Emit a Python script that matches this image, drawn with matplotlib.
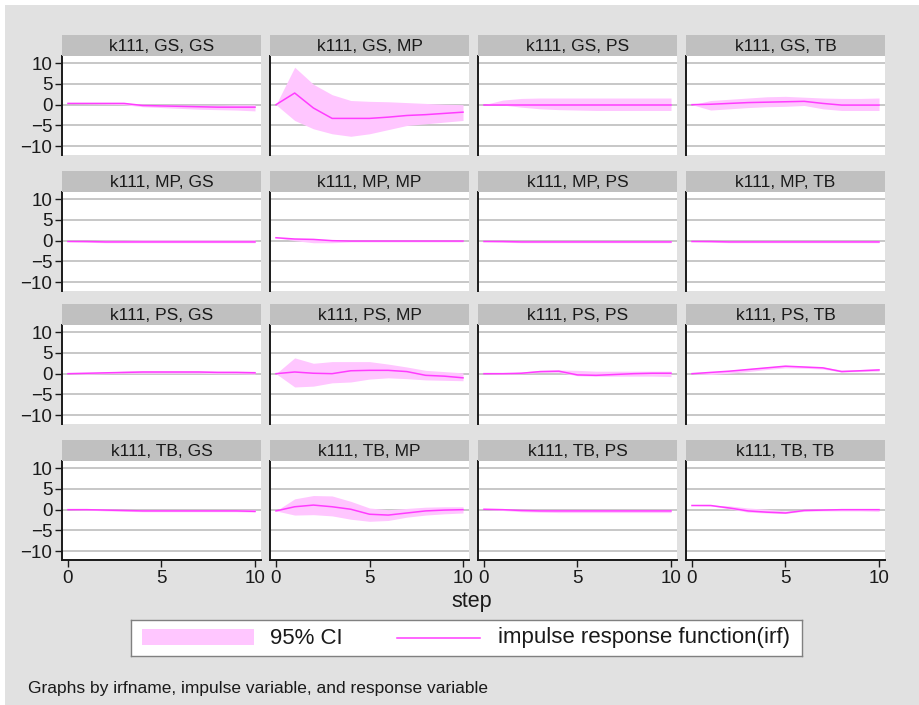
import matplotlib
matplotlib.use("Agg")
import matplotlib.pyplot as plt
from matplotlib.patches import Rectangle
from matplotlib.lines import Line2D

plt.rcParams["font.family"] = ["Liberation Sans", "DejaVu Sans"]

# ── data ──────────────────────────────────────────────────────────────────────

steps = list(range(11))
impulses = ["GS", "MP", "PS", "TB"]
responses = ["GS", "MP", "PS", "TB"]

# one row per panel, order: impulse GS (resp GS, MP, PS, TB), impulse MP, ...
irf = [
    [0.3, 0.3, 0.3, 0.3, -0.2, -0.3, -0.4, -0.5, -0.6, -0.6, -0.6],
    [0.0, 2.8, -0.8, -3.3, -3.3, -3.3, -3.0, -2.6, -2.4, -2.1, -1.8],
    [0.0, 0.0, 0.0, 0.0, 0.0, 0.0, 0.0, 0.0, 0.0, 0.0, 0.0],
    [0.0, 0.1, 0.3, 0.5, 0.6, 0.7, 0.8, 0.3, -0.1, -0.1, -0.1],
    [-0.2, -0.2, -0.3, -0.3, -0.3, -0.3, -0.3, -0.3, -0.3, -0.3, -0.3],
    [0.7, 0.4, 0.3, 0.0, -0.1, -0.1, -0.1, -0.1, -0.1, -0.1, -0.1],
    [-0.2, -0.2, -0.3, -0.3, -0.3, -0.3, -0.3, -0.3, -0.3, -0.3, -0.3],
    [-0.2, -0.2, -0.3, -0.3, -0.3, -0.3, -0.3, -0.3, -0.3, -0.3, -0.3],
    [0.0, 0.1, 0.2, 0.3, 0.4, 0.4, 0.4, 0.4, 0.3, 0.3, 0.2],
    [0.0, 0.4, 0.1, 0.0, 0.7, 0.8, 0.8, 0.5, -0.4, -0.6, -1.0],
    [0.0, 0.0, 0.1, 0.5, 0.6, -0.3, -0.4, -0.2, 0.0, 0.1, 0.1],
    [0.0, 0.3, 0.6, 1.0, 1.4, 1.8, 1.6, 1.4, 0.5, 0.7, 0.9],
    [0.0, 0.0, -0.1, -0.2, -0.3, -0.3, -0.3, -0.3, -0.3, -0.3, -0.4],
    [-0.3, 0.7, 1.1, 0.7, 0.1, -1.1, -1.3, -0.8, -0.3, -0.1, 0.0],
    [0.1, 0.0, -0.2, -0.3, -0.3, -0.3, -0.3, -0.3, -0.3, -0.3, -0.3],
    [1.0, 1.0, 0.4, -0.3, -0.6, -0.8, -0.2, -0.1, 0.0, 0.0, 0.0],
]

ci_lower = [
    [0.3, 0.2, 0.1, 0.0, -0.5, -0.7, -0.9, -1.1, -1.2, -1.3, -1.5],
    [0.0, -3.8, -5.8, -7.0, -7.6, -7.0, -6.0, -5.0, -4.6, -4.2, -3.8],
    [0.0, -0.1, -0.6, -1.0, -1.2, -1.3, -1.4, -1.4, -1.4, -1.4, -1.4],
    [0.0, -1.3, -1.0, -0.7, -0.5, -0.4, -0.2, -1.0, -1.4, -1.4, -1.4],
    [-0.2, -0.4, -0.5, -0.5, -0.5, -0.5, -0.5, -0.5, -0.5, -0.5, -0.5],
    [0.7, 0.0, -0.5, -0.5, -0.3, -0.3, -0.3, -0.3, -0.3, -0.3, -0.3],
    [-0.2, -0.4, -0.5, -0.5, -0.5, -0.5, -0.5, -0.5, -0.5, -0.5, -0.5],
    [-0.2, -0.4, -0.5, -0.5, -0.5, -0.5, -0.5, -0.5, -0.5, -0.5, -0.5],
    [0.0, -0.1, 0.0, 0.1, 0.1, 0.1, 0.1, 0.1, 0.0, 0.0, -0.1],
    [0.0, -3.2, -3.0, -2.2, -2.0, -1.3, -1.0, -1.2, -1.5, -1.6, -1.7],
    [0.0, -0.1, 0.0, 0.3, 0.3, -0.5, -0.6, -0.6, -0.6, -0.6, -0.7],
    [0.0, -0.2, 0.1, 0.5, 1.0, 1.4, 1.3, 1.1, 0.4, 0.5, 0.6],
    [0.0, -0.1, -0.3, -0.4, -0.5, -0.5, -0.5, -0.5, -0.5, -0.5, -0.6],
    [-0.3, -1.3, -1.2, -1.5, -2.3, -2.8, -2.6, -1.8, -1.3, -1.0, -0.8],
    [0.1, -0.2, -0.5, -0.6, -0.7, -0.7, -0.7, -0.7, -0.7, -0.7, -0.7],
    [1.0, 0.9, 0.2, -0.6, -0.8, -0.9, -0.4, -0.3, -0.3, -0.3, -0.4],
]

ci_upper = [
    [0.3, 0.4, 0.4, 0.4, 0.1, 0.0, -0.1, -0.1, -0.1, 0.0, 0.0],
    [0.0, 9.0, 4.9, 2.4, 1.0, 0.8, 0.7, 0.5, 0.3, 0.1, 0.0],
    [0.0, 1.1, 1.5, 1.6, 1.6, 1.6, 1.6, 1.6, 1.6, 1.6, 1.6],
    [0.0, 1.0, 1.3, 1.6, 1.9, 2.0, 1.8, 1.6, 1.5, 1.5, 1.6],
    [-0.2, 0.0, 0.1, 0.1, 0.2, 0.2, 0.2, 0.2, 0.2, 0.2, 0.2],
    [0.7, 0.5, 0.4, 0.1, 0.0, 0.0, 0.0, 0.0, 0.0, 0.0, 0.0],
    [-0.2, -0.1, -0.1, -0.1, 0.0, 0.0, 0.0, 0.0, 0.0, 0.0, 0.0],
    [-0.2, -0.1, -0.1, -0.1, 0.0, 0.0, 0.0, 0.0, 0.0, 0.0, 0.0],
    [0.0, 0.2, 0.4, 0.6, 0.7, 0.7, 0.7, 0.7, 0.6, 0.6, 0.6],
    [0.0, 3.8, 2.5, 2.9, 2.9, 2.9, 2.3, 1.6, 0.8, 0.5, 0.2],
    [0.0, 0.1, 0.4, 0.8, 0.9, 0.8, 0.6, 0.6, 0.6, 0.6, 0.6],
    [0.0, 0.4, 0.8, 1.2, 1.6, 2.0, 1.8, 1.6, 0.9, 1.0, 1.2],
    [0.0, 0.1, 0.1, 0.0, 0.0, 0.0, 0.0, 0.0, 0.0, 0.0, 0.0],
    [-0.3, 2.6, 3.4, 3.3, 2.0, 0.4, 0.0, 0.3, 0.6, 0.7, 0.7],
    [0.1, 0.1, 0.0, 0.0, 0.0, 0.0, 0.0, 0.0, 0.0, 0.0, 0.0],
    [1.0, 1.1, 0.9, 0.4, 0.1, -0.3, 0.0, 0.1, 0.1, 0.2, 0.2],
]

yticks = [-10, -5, 0, 5, 10]
xticks = [0, 5, 10]

# ── style ─────────────────────────────────────────────────────────────────────

W, H = 920, 705
BG = "#e1e1e1"
STRIP = "#c0c0c0"
GRID = "#b8b8b8"
CI_COLOR = "#ffc6ff"
LINE_COLOR = "#ff3cff"
INK = "#1a1a1a"

col_left = [62, 270, 478, 686]
row_top = [56, 192, 325, 461]
pw, ph, sh = 199, 99, 21


def px_box(x, y, w, h):
    return [x / W, 1 - (y + h) / H, w / W, h / H]


# ── figure ────────────────────────────────────────────────────────────────────

fig = plt.figure(figsize=(W / 100, H / 100), dpi=100, facecolor="white")
fig.patches.append(Rectangle((5 / W, 0), 1, 1 - 5 / H, transform=fig.transFigure,
                             facecolor=BG, edgecolor="none", zorder=-10))

for i, imp in enumerate(impulses):
    for j, resp in enumerate(responses):
        k = i * 4 + j
        ax = fig.add_axes(px_box(col_left[j], row_top[i], pw, ph))
        ax.fill_between(steps, ci_lower[k], ci_upper[k], color=CI_COLOR, linewidth=0)
        ax.plot(steps, irf[k], color=LINE_COLOR, linewidth=1.1)
        ax.set_xlim(-0.32, 10.32)
        ax.set_ylim(-12.1, 11.7)
        ax.set_yticks(yticks)
        ax.set_xticks(xticks)
        ax.grid(axis="y", color=GRID, linewidth=1.1)
        ax.set_axisbelow(True)
        for s in ["top", "right"]:
            ax.spines[s].set_visible(False)
        ax.spines["left"].set_linewidth(1.4)
        ax.spines["left"].set_color(INK)
        ax.tick_params(axis="both", length=5, width=1, labelsize=13.5, pad=2, colors=INK)
        if j > 0:
            ax.tick_params(axis="y", length=0, labelleft=False)
        else:
            ax.set_yticklabels(["\u221210", "\u22125", "0", "5", "10"])
        if i < 3:
            ax.spines["bottom"].set_visible(False)
            ax.tick_params(axis="x", length=0, labelbottom=False)
        else:
            ax.spines["bottom"].set_linewidth(1.4)
            ax.spines["bottom"].set_color(INK)

        sax = fig.add_axes(px_box(col_left[j], row_top[i] - sh, pw, sh))
        sax.set_facecolor(STRIP)
        sax.set_xticks([])
        sax.set_yticks([])
        for s in sax.spines.values():
            s.set_visible(False)
        sax.text(0.5, 0.45, f"k111, {imp}, {resp}", ha="center", va="center",
                 fontsize=12.6, color=INK, transform=sax.transAxes)

fig.text(472 / W, 1 - 602 / H, "step", ha="center", va="center", fontsize=15.5, color=INK)

# legend box
lax = fig.add_axes(px_box(131, 620, 671, 36))
lax.set_xlim(0, 671)
lax.set_ylim(36, 0)
lax.set_xticks([])
lax.set_yticks([])
for s in lax.spines.values():
    s.set_color("#808080")
    s.set_linewidth(1)
lax.add_patch(Rectangle((11, 9), 112, 16, facecolor=CI_COLOR, edgecolor="none"))
lax.text(139, 18, "95% CI", ha="left", va="center", fontsize=16, color=INK)
lax.add_line(Line2D([266, 349], [18, 18], color=LINE_COLOR, linewidth=1.1))
lax.text(367, 18, "impulse response function(irf)", ha="left", va="center",
         fontsize=16, color=INK)

fig.text(28 / W, 1 - 689 / H, "Graphs by irfname, impulse variable, and response variable",
         ha="left", va="center", fontsize=12.5, color=INK)

fig.savefig("out.png", dpi=100, facecolor=fig.get_facecolor())
